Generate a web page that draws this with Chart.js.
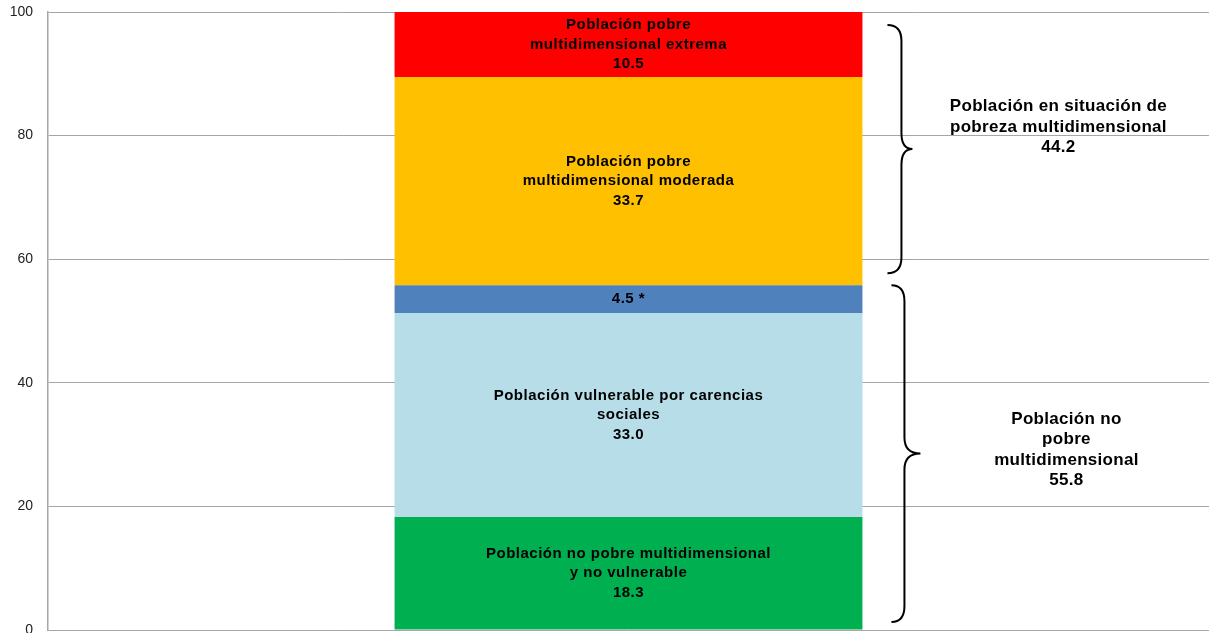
<!DOCTYPE html>
<html>
<head>
<meta charset="utf-8">
<script src="https://cdn.jsdelivr.net/npm/chart.js@4/dist/chart.umd.min.js"></script>
<style>
  html, body { margin: 0; padding: 0; background: #fff; }
  #wrap { width: 1209px; height: 633px; }
</style>
</head>
<body>
<div id="wrap"><canvas id="grafico"></canvas></div>
<script>
const categorias = [''];
const segmentos = ['No pobre y no vulnerable', 'Vulnerable por carencias sociales', 'Vulnerable por ingresos', 'Pobre moderada', 'Pobre extrema'];
const valores = [18.3, 33.0, 4.5, 33.7, 10.5];
const colores = ['#00B050', '#B7DDE8', '#4F81BD', '#FFC000', '#FF0000'];
const etiquetas = [
  ['Población no pobre multidimensional', 'y no vulnerable', '18.3'],
  ['Población vulnerable por carencias', 'sociales', '33.0'],
  ['4.5 *'],
  ['Población pobre', 'multidimensional moderada', '33.7'],
  ['Población pobre', 'multidimensional extrema', '10.5'],
];
const ticksY = [0, 20, 40, 60, 80, 100];
// llaves de la derecha: rango de segmentos que abarcan y su texto
const grupos = [
  { desde: 0, hasta: 3, texto: ['Población no', 'pobre', 'multidimensional', '55.8'] },
  { desde: 3, hasta: 5, texto: ['Población en situación de', 'pobreza multidimensional', '44.2'] },
];

const FUENTE = '"Liberation Sans", Arial, sans-serif';

// Texto dentro de cada segmento
const textoBarras = {
  id: 'textoBarras',
  afterDatasetsDraw(chart) {
    const ctx = chart.ctx;
    ctx.save();
    ctx.font = 'bold 15px ' + FUENTE;
    ctx.letterSpacing = '0.5px';
    ctx.fillStyle = '#000';
    ctx.textAlign = 'center';
    ctx.textBaseline = 'middle';
    chart.data.datasets.forEach((ds, i) => {
      const bar = chart.getDatasetMeta(i).data[0];
      const lineas = etiquetas[i];
      const cy = (bar.y + bar.base) / 2;
      const lh = 19.5;
      lineas.forEach((t, j) => {
        ctx.fillText(t, bar.x, cy + (j - (lineas.length - 1) / 2) * lh);
      });
    });
    ctx.restore();
  }
};

// Llaves y textos de grupo
const llaves = {
  id: 'llaves',
  afterDatasetsDraw(chart) {
    const ctx = chart.ctx;
    const ys = chart.scales.y;
    const bar = chart.getDatasetMeta(0).data[0];
    const derecha = bar.x + bar.width / 2;
    // ajustes finos por llave (px)
    const ajustes = [
      { arriba: 0, abajo: 8, x0: 29, x1: 42, xt: 58, dy: -4 },
      { arriba: 13, abajo: 12, x0: 25, x1: 39, xt: 50, dy: -22 },
    ];
    ctx.save();
    grupos.forEach((g, k) => {
      const a = ajustes[k];
      const inicio = valores.slice(0, g.desde).reduce((s, v) => s + v, 0);
      const fin = valores.slice(0, g.hasta).reduce((s, v) => s + v, 0);
      const yTop = ys.getPixelForValue(fin) + a.arriba;
      const yBot = ys.getPixelForValue(inicio) - a.abajo;
      const yMid = (yTop + yBot) / 2;
      const x0 = derecha + a.x0, x1 = derecha + a.x1, xt = derecha + a.xt;
      const r = 16;
      ctx.beginPath();
      ctx.moveTo(x0, yTop);
      ctx.quadraticCurveTo(x1, yTop, x1, yTop + r);
      ctx.lineTo(x1, yMid - r);
      ctx.quadraticCurveTo(x1, yMid, xt, yMid);
      ctx.quadraticCurveTo(x1, yMid, x1, yMid + r);
      ctx.lineTo(x1, yBot - r);
      ctx.quadraticCurveTo(x1, yBot, x0, yBot);
      ctx.strokeStyle = '#000';
      ctx.lineWidth = 2;
      ctx.stroke();

      ctx.font = 'bold 17px ' + FUENTE;
      ctx.letterSpacing = '0.3px';
      ctx.fillStyle = '#000';
      ctx.textAlign = 'center';
      ctx.textBaseline = 'middle';
      const lh = 20.5;
      const cy = yMid + a.dy;
      g.texto.forEach((t, j) => {
        ctx.fillText(t, xt + 146, cy + (j - (g.texto.length - 1) / 2) * lh);
      });
    });
    ctx.restore();
  }
};

new Chart(document.getElementById('grafico').getContext('2d'), {
  type: 'bar',
  data: {
    labels: categorias,
    datasets: segmentos.map((s, i) => ({
      label: s,
      data: [valores[i]],
      backgroundColor: colores[i],
      borderWidth: 0,
      barPercentage: 0.403,
      categoryPercentage: 1,
    })),
  },
  options: {
    responsive: true,
    maintainAspectRatio: false,
    animation: false,
    layout: { padding: { top: 12, bottom: 3, left: 0, right: 0 } },
    plugins: {
      legend: { display: false },
      tooltip: { enabled: false },
    },
    scales: {
      x: { stacked: true, display: false },
      y: {
        stacked: true,
        min: 0,
        max: 100,
        afterBuildTicks(scale) { scale.ticks = ticksY.map(v => ({ value: v })); },
        afterFit(scale) { scale.width = 48; scale.paddingTop = 0; scale.paddingBottom = 0; },
        ticks: { font: { family: FUENTE, size: 14 }, color: '#222', padding: 15 },
        grid: { color: '#a6a6a6', lineWidth: 1, drawTicks: false },
        border: { color: '#a6a6a6', width: 1.5 },
      },
    },
  },
  plugins: [textoBarras, llaves],
});
</script>
</body>
</html>
